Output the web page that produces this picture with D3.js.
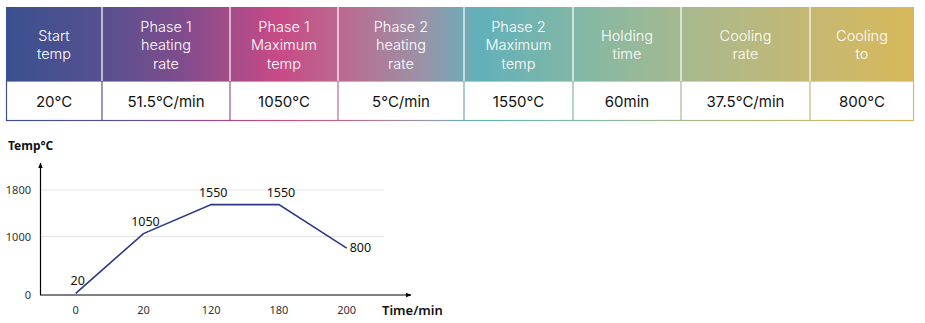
<!DOCTYPE html>
<html>
<head>
<meta charset="utf-8">
<script src="https://cdn.jsdelivr.net/npm/d3@7"></script>
<style>
  html, body { margin: 0; padding: 0; background: #fff; }
  svg { display: block; }
</style>
</head>
<body>
<svg id="chart" width="925" height="323"></svg>
<script>
// table: header lines and the value row
const headers = [
  ['Start', 'temp'],
  ['Phase 1', 'heating', 'rate'],
  ['Phase 1', 'Maximum', 'temp'],
  ['Phase 2', 'heating', 'rate'],
  ['Phase 2', 'Maximum', 'temp'],
  ['Holding', 'time'],
  ['Cooling', 'rate'],
  ['Cooling', 'to']
];
const values = ['20°C', '51.5°C/min', '1050°C', '5°C/min', '1550°C', '60min', '37.5°C/min', '800°C'];
const colEdges = [6, 102, 230, 338, 464, 573, 681, 810, 914];

// chart: time points and temperatures
const times = ['0', '20', '120', '180', '200'];
const temps = [20, 1050, 1550, 1550, 800];
const yTicks = [0, 1000, 1800];

const svg = d3.select('#chart');
const defs = svg.append('defs');

const grad = defs.append('linearGradient')
  .attr('id', 'hdr')
  .attr('gradientUnits', 'userSpaceOnUse')
  .attr('x1', colEdges[0]).attr('x2', colEdges[colEdges.length - 1])
  .attr('y1', 0).attr('y2', 0);
[
  [0.00, '#3a5090'],
  [0.10, '#55508f'],
  [0.19, '#7d4d8d'],
  [0.30, '#c84a86'],
  [0.38, '#b86e92'],
  [0.46, '#9a93a8'],
  [0.52, '#62b0ba'],
  [0.64, '#85b8a4'],
  [0.76, '#aab98c'],
  [0.88, '#c4b874'],
  [1.00, '#d8b85a']
].forEach(([o, c]) => grad.append('stop').attr('offset', o).attr('stop-color', c));

const tTop = 7, tMid = 81, tBot = 121;
const tbl = svg.append('g');
const x0 = colEdges[0], x1 = colEdges[colEdges.length - 1];

tbl.append('rect')
  .attr('x', x0).attr('y', tTop)
  .attr('width', x1 - x0).attr('height', tMid - tTop)
  .attr('fill', 'url(#hdr)');

tbl.append('rect')
  .attr('x', x0 + 0.5).attr('y', tMid)
  .attr('width', x1 - x0 - 1).attr('height', tBot - tMid - 0.5)
  .attr('fill', '#fff')
  .attr('stroke', 'url(#hdr)')
  .attr('stroke-width', 1.2);

colEdges.slice(1, -1).forEach((cx) => {
  tbl.append('line')
    .attr('x1', cx).attr('x2', cx).attr('y1', tTop).attr('y2', tMid)
    .attr('stroke', '#fff').attr('stroke-width', 1.2);
  tbl.append('line')
    .attr('x1', cx).attr('x2', cx).attr('y1', tMid).attr('y2', tBot)
    .attr('stroke', 'url(#hdr)').attr('stroke-width', 1.2);
});

headers.forEach((lines, i) => {
  const cx = (colEdges[i] + colEdges[i + 1]) / 2;
  const lh = 18.5;
  const startY = (tTop + tMid) / 2 - ((lines.length - 1) * lh) / 2 + 6;
  const t = tbl.append('text')
    .attr('text-anchor', 'middle')
    .attr('font-family', 'Inter, "Open Sans", sans-serif')
    .attr('font-size', 14.5)
    .attr('font-weight', 300)
    .attr('fill', '#fff');
  lines.forEach((ln, j) => {
    t.append('tspan').attr('x', cx).attr('y', startY + j * lh).text(ln);
  });
  tbl.append('text')
    .attr('x', cx).attr('y', 107)
    .attr('text-anchor', 'middle')
    .attr('font-family', 'Inter, "Open Sans", sans-serif')
    .attr('font-size', 15)
    .attr('fill', '#111')
    .text(values[i]);
});

// line chart
const x = d3.scalePoint().domain(times).range([75.7, 346.7]);
const y = d3.scaleLinear().domain([0, 1800]).range([294.5, 190.1]);

defs.append('marker')
  .attr('id', 'arr')
  .attr('viewBox', '0 -5 10 10')
  .attr('refX', 9).attr('refY', 0)
  .attr('markerWidth', 6).attr('markerHeight', 6)
  .attr('markerUnits', 'userSpaceOnUse')
  .attr('orient', 'auto')
  .append('path').attr('d', 'M0,-4L10,0L0,4Z').attr('fill', '#000');

const g = svg.append('g');

g.selectAll('.grid')
  .data(yTicks.filter((d) => d > 0))
  .enter().append('line')
  .attr('x1', 41).attr('x2', 384)
  .attr('y1', (d) => y(d)).attr('y2', (d) => y(d))
  .attr('stroke', '#e2e2e2').attr('stroke-width', 1);

g.selectAll('.ytick')
  .data(yTicks)
  .enter().append('text')
  .attr('x', 31).attr('y', (d) => y(d) + 4)
  .attr('text-anchor', 'end')
  .attr('font-family', '"Noto Sans", sans-serif')
  .attr('font-size', 11)
  .attr('fill', '#333')
  .text((d) => d);

g.selectAll('.xtick')
  .data(times)
  .enter().append('text')
  .attr('x', (d) => x(d)).attr('y', 314)
  .attr('text-anchor', 'middle')
  .attr('font-family', '"Noto Sans", sans-serif')
  .attr('font-size', 11)
  .attr('fill', '#333')
  .text((d) => d);

g.append('line')
  .attr('x1', 40.5).attr('x2', 40.5).attr('y1', y(0) + 0.5).attr('y2', 163)
  .attr('stroke', '#000').attr('stroke-width', 1.2)
  .attr('marker-end', 'url(#arr)');
g.append('line')
  .attr('x1', 40).attr('x2', 411).attr('y1', y(0) + 0.5).attr('y2', y(0) + 0.5)
  .attr('stroke', '#000').attr('stroke-width', 1.2)
  .attr('marker-end', 'url(#arr)');

const pts = times.map((t, i) => ({ t, v: temps[i] }));
g.append('path')
  .datum(pts)
  .attr('fill', 'none')
  .attr('stroke', '#2b388a')
  .attr('stroke-width', 1.6)
  .attr('d', d3.line().x((d) => x(d.t)).y((d) => y(d.v)));

g.selectAll('.dl')
  .data(pts)
  .enter().append('text')
  .attr('x', (d, i) => (i === pts.length - 1 ? x(d.t) + 3 : x(d.t) + 2))
  .attr('y', (d, i) => (i === pts.length - 1 ? y(d.v) + 4 : y(d.v) - 8))
  .attr('text-anchor', (d, i) => (i === pts.length - 1 ? 'start' : 'middle'))
  .attr('font-family', '"Noto Sans", sans-serif')
  .attr('font-size', 12.5)
  .attr('fill', '#111')
  .text((d) => d.v);

svg.append('text')
  .attr('x', 8).attr('y', 150)
  .attr('font-family', '"Noto Sans", sans-serif')
  .attr('font-size', 12).attr('font-weight', 'bold')
  .attr('fill', '#111')
  .text('Temp°C');

svg.append('text')
  .attr('x', 382).attr('y', 315)
  .attr('font-family', '"Noto Sans", sans-serif')
  .attr('font-size', 13).attr('font-weight', 600)
  .attr('fill', '#111')
  .text('Time/min');
</script>
</body>
</html>
